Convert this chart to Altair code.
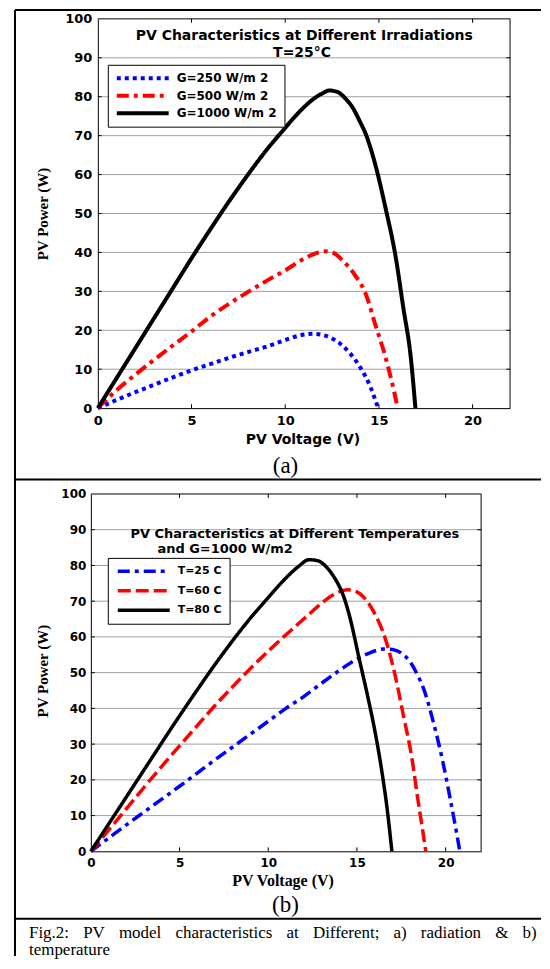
import altair as alt
import pandas as pd

# ---------------- data ----------------
# (a) PV power vs voltage at different irradiations, T = 25 C
A_SERIES = ["G=250 W/m 2", "G=500 W/m 2", "G=1000 W/m 2"]
A_V_250 = [0, 1, 2, 3, 4, 5, 6, 7, 8, 9, 10, 10.8, 11.46, 12.0, 12.5, 13.0, 13.4, 14.0, 14.55, 14.96]
A_P_250 = [0, 2.1, 4.1, 6.0, 7.9, 9.7, 11.3, 12.9, 14.4, 15.8, 17.5, 18.7, 19.1, 18.8, 17.9, 16.3, 14.4, 10.5, 5.4, 0.0]
A_V_500 = [0, 1, 2, 3, 4, 5, 6, 7, 8, 9, 10, 11, 11.5, 12.1, 12.6, 13.05, 13.75, 14.3, 14.8, 15.35, 15.8, 16.0]
A_P_500 = [0, 4.6, 8.6, 12.4, 16.1, 19.7, 23.5, 26.8, 29.8, 32.7, 35.4, 38.4, 39.5, 40.3, 39.8, 38.0, 34.0, 29.3, 21.6, 13.1, 4.5, 0.0]
A_V_1000 = [0, 1, 2, 3, 4, 5, 6, 7, 8, 9, 10, 10.5, 11, 11.5, 12, 12.35, 12.8, 13.2, 13.6, 14.0, 14.3, 14.8, 15.35, 15.9, 16.3, 16.7, 16.95]
A_P_1000 = [0, 7.7, 15.4, 23.1, 30.8, 38.5, 45.9, 53.1, 59.9, 66.3, 72.0, 74.8, 77.3, 79.4, 80.9, 81.6, 81.2, 79.6, 77.2, 73.5, 70.4, 62.7, 51.5, 38.7, 25.9, 13.1, 0.0]

# (b) PV power vs voltage at different temperatures, G = 1000 W/m2
B_SERIES = ["T=25 C", "T=60 C", "T=80 C"]
B_V_25 = [0, 1, 2, 3, 4, 5, 6, 7, 8, 9, 10, 11, 12, 13, 14, 15, 15.8, 16.5, 17.0, 17.5, 18.0, 18.4, 18.75, 19.3, 19.8, 20.25, 20.6, 20.8]
B_P_25 = [0, 3.7, 7.4, 11.0, 14.6, 18.2, 21.9, 25.6, 29.2, 32.8, 36.4, 40.0, 43.3, 47.0, 50.6, 53.8, 55.7, 56.6, 56.5, 55.5, 53.0, 49.5, 45.6, 36.3, 26.0, 14.9, 5.6, 0.0]
B_V_60 = [0, 1, 2, 3, 4, 5, 6, 7, 8, 9, 10, 11, 12, 13, 13.6, 14.47, 15.0, 15.4, 15.95, 16.6, 17.15, 17.6, 18.1, 18.45, 18.7, 18.88]
B_P_60 = [0, 5.9, 11.9, 17.9, 23.8, 29.5, 35.2, 40.8, 46.1, 51.2, 56.0, 60.6, 65.0, 69.4, 71.6, 73.2, 72.6, 71.0, 67.0, 59.5, 49.3, 38.5, 26.0, 14.0, 6.0, 0.0]
B_V_80 = [0, 1, 2, 3, 4, 5, 6, 7, 8, 9, 10, 11, 11.7, 12.3, 12.8, 13.25, 13.8, 14.2, 14.6, 15.1, 15.6, 16.0, 16.4, 16.7, 16.97]
B_P_80 = [0, 7.6, 15.2, 22.8, 30.4, 37.9, 45.2, 52.3, 59.0, 65.3, 71.0, 76.5, 79.7, 81.6, 81.3, 79.7, 76.0, 72.0, 65.5, 54.5, 43.5, 34.0, 22.5, 12.0, 0.0]

XTICKS = [0, 5, 10, 15, 20]
YTICKS = [0, 10, 20, 30, 40, 50, 60, 70, 80, 90, 100]
X_MAX = 22
Y_MAX = 100

TITLE_A = ["PV Characteristics at Different Irradiations", "T=25°C"]
TITLE_B = ["PV Characteristics at Different Temperatures", "and G=1000 W/m2"]
CAPTION_1 = ["Fig.2:", "PV", "model", "characteristics", "at", "Different;", "a)", "radiation", "&", "b)"]
CAPTION_2 = "temperature"

SANS = "DejaVu Sans"
SERIF = "Liberation Serif"
GAP = "\u2002\u2004"   # widened word gap to imitate the justified caption line


def long_df(series, vs, ps):
    rows = []
    for name, v, p in zip(series, vs, ps):
        for a, b in zip(v, p):
            rows.append({"s": name, "V": a, "P": b})
    return pd.DataFrame(rows)


ONE = pd.DataFrame({"k": [0]})


def make_panel(df, series, colors, dashes, lw, legend, xs, ys, xa, ya, tick_x, tick_y, titles, extra):
    X = lambda v: alt.XDatum(v, scale=xs, axis=xa)
    Y = lambda v: alt.YDatum(v, scale=ys, axis=ya)
    layers = []
    # horizontal grid lines
    layers.append(alt.Chart(pd.DataFrame({"g": YTICKS[1:-1]})).mark_rule(
        color="#a0a0a0", strokeWidth=1).encode(
        x=X(0), x2=alt.X2Datum(X_MAX), y=alt.Y("g:Q", scale=ys, axis=ya)))
    # top and right side of the box
    layers.append(alt.Chart(ONE).mark_rule(color="black", strokeWidth=1).encode(
        x=X(0), x2=alt.X2Datum(X_MAX), y=Y(Y_MAX)))
    layers.append(alt.Chart(ONE).mark_rule(color="black", strokeWidth=1).encode(
        x=X(X_MAX), y=Y(0), y2=alt.Y2Datum(Y_MAX)))
    # inward tick marks on all four sides
    xt = pd.DataFrame({"t": XTICKS[1:]})
    yt = pd.DataFrame({"t": YTICKS[1:-1]})
    layers.append(alt.Chart(xt).mark_rule(color="black").encode(
        x=alt.X("t:Q", scale=xs, axis=xa), y=Y(0), y2=alt.Y2Datum(tick_y)))
    layers.append(alt.Chart(xt).mark_rule(color="black").encode(
        x=alt.X("t:Q", scale=xs, axis=xa), y=Y(Y_MAX), y2=alt.Y2Datum(Y_MAX - tick_y)))
    layers.append(alt.Chart(yt).mark_rule(color="black").encode(
        y=alt.Y("t:Q", scale=ys, axis=ya), x=X(0), x2=alt.X2Datum(tick_x)))
    layers.append(alt.Chart(yt).mark_rule(color="black").encode(
        y=alt.Y("t:Q", scale=ys, axis=ya), x=X(X_MAX), x2=alt.X2Datum(X_MAX - tick_x)))
    # curves
    layers.append(alt.Chart(df).mark_line(
        strokeWidth=lw, strokeCap="butt", interpolate="monotone").encode(
        x=alt.X("V:Q", scale=xs, axis=xa),
        y=alt.Y("P:Q", scale=ys, axis=ya),
        color=alt.Color("s:N", scale=alt.Scale(domain=series, range=colors), legend=legend),
        strokeDash=alt.StrokeDash("s:N", scale=alt.Scale(domain=series, range=dashes), legend=legend)))
    # in-plot titles
    for txt, xv, yv, size in titles:
        layers.append(alt.Chart(ONE).mark_text(
            text=txt, font=SANS, fontWeight="bold", fontSize=size, align="center",
            baseline="middle", color="black").encode(x=X(xv), y=Y(yv)))
    return alt.layer(*layers, *extra)


def pix_text(txt, x, y, size, font=SERIF, weight="normal", align="center"):
    return alt.Chart(ONE).mark_text(
        text=txt, font=font, fontWeight=weight, fontSize=size, align=align,
        baseline="middle", color="black").encode(x=alt.value(x), y=alt.value(y))


def hline(x1, x2, y):
    return alt.Chart(ONE).mark_rule(color="black", strokeWidth=2).encode(
        x=alt.value(x1), x2=alt.value(x2), y=alt.value(y))


def vline(x, y1, y2):
    return alt.Chart(ONE).mark_rule(color="black", strokeWidth=2).encode(
        x=alt.value(x), y=alt.value(y1), y2=alt.value(y2))


def axis_pair(lab_size, xtitle_font, xtitle_size, xtx, xty, ytx, yty, yoffset, ylabpad):
    common = dict(ticks=False, tickSize=0, grid=False, domainColor="black", domainWidth=1,
                  labelFont=SANS, labelFontWeight="bold", labelFontSize=lab_size,
                  labelColor="black", labelFlush=False, titleColor="black")
    xa = alt.Axis(values=XTICKS, labelPadding=6, title="PV Voltage (V)",
                  titleFont=xtitle_font, titleFontWeight="bold", titleFontSize=xtitle_size,
                  titleX=xtx, titleY=xty, titleBaseline="middle", **common)
    ya = alt.Axis(values=YTICKS, labelPadding=ylabpad, offset=yoffset, title="PV Power (W)",
                  titleFont=SERIF, titleFontWeight="bold", titleFontSize=15,
                  titleX=ytx, titleY=yty, titleBaseline="middle", titleAlign="center", **common)
    return xa, ya


# ---------------- panel (a) ----------------
WA, HA = 413, 390
xs_a = alt.Scale(domain=[0, X_MAX], nice=False, zero=False)
ys_a = alt.Scale(domain=[0, Y_MAX], nice=False)
xaxis_a, yaxis_a = axis_pair(13, SANS, 14, 205, 31, -55, 195, 0, 6)

legend_a = alt.Legend(
    orient="none", legendX=10, legendY=46, title=None, symbolType="stroke",
    symbolSize=2704, symbolStrokeWidth=4, clipHeight=13, labelFont=SANS,
    labelFontWeight="bold", labelFontSize=12, labelColor="black", labelOffset=6,
    strokeColor="black", fillColor="white", padding=7, rowPadding=4.5)

caption_1 = GAP.join(CAPTION_1)

# frame of the figure, panel labels and caption (pixels relative to panel (a) origin)
frame = [
    hline(-83, 444, -9),
    vline(-83, -9, 939),
    hline(-83, 444, 461.5),
    hline(-83, 444, 901.5),
    pix_text("(a)", 188, 448, 23),
    pix_text("(b)", 188, 888, 23),
    pix_text(caption_1, -69, 915.5, 17, align="left"),
    pix_text(CAPTION_2, -69, 933, 17, align="left"),
]

panel_a = make_panel(
    long_df(A_SERIES, [A_V_250, A_V_500, A_V_1000], [A_P_250, A_P_500, A_P_1000]),
    A_SERIES, ["#0000ff", "#ff0000", "#000000"], [[4, 4], [12, 5, 4, 5], [1, 0]], 4,
    legend_a, xs_a, ys_a, xaxis_a, yaxis_a, 0.2, 1.0,
    [(TITLE_A[0], 11.02, 95.7, 14), (TITLE_A[1], 10.9, 91.3, 14)],
    frame,
).properties(width=WA, height=HA)

# ---------------- panel (b) ----------------
WB, HB = 384, 358
xs_b = alt.Scale(domain=[0, X_MAX], range=[-7, WB], nice=False, zero=False)
ys_b = alt.Scale(domain=[0, Y_MAX], nice=False)
xaxis_b, yaxis_b = axis_pair(12, SERIF, 16, 185, 29, -48, 177, 7, 5)

legend_b = alt.Legend(
    orient="none", legendX=10, legendY=64, title=None, symbolType="stroke",
    symbolSize=2704, symbolStrokeWidth=3.5, clipHeight=11, labelFont=SANS,
    labelFontWeight="bold", labelFontSize=11, labelColor="black", labelOffset=6,
    strokeColor="black", fillColor="white", padding=8, rowPadding=7.5)

panel_b = make_panel(
    long_df(B_SERIES, [B_V_25, B_V_60, B_V_80], [B_P_25, B_P_60, B_P_80]),
    B_SERIES, ["#0000ff", "#ff0000", "#000000"], [[12, 5, 4, 5], [13, 5], [1, 0]], 3.5,
    legend_b, xs_b, ys_b, xaxis_b, yaxis_b, 0.22, 1.1,
    [(TITLE_B[0], 11.5, 88.9, 13), (TITLE_B[1], 7.57, 84.5, 13)],
    [],
).properties(width=WB, height=HB)

chart = alt.vconcat(panel_a, panel_b, spacing=86, bounds="flush").resolve_scale(
    color="independent", strokeDash="independent"
).properties(
    padding={"left": 6, "top": 0, "right": 0, "bottom": 0},
    background="white",
).configure_view(strokeWidth=0)

chart.save("out.html", embed_options={"renderer": "svg", "actions": False})
